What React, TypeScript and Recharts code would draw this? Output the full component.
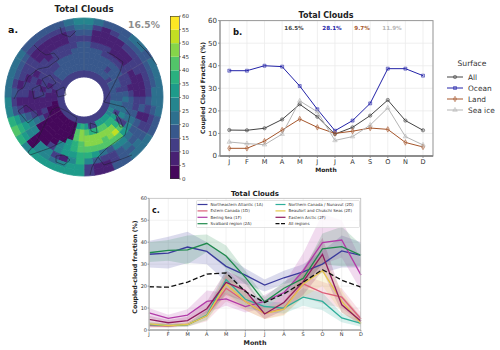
import {
  Area,
  Bar,
  BarChart,
  CartesianGrid,
  ComposedChart,
  Cell,
  Legend,
  Line,
  LineChart,
  Pie,
  PieChart,
  Scatter,
  ScatterChart,
  Symbols,
  XAxis,
  YAxis,
} from "recharts";

const FONT = "DejaVu Sans";
const MONTHS = ["J", "F", "M", "A", "M", "J", "J", "A", "S", "O", "N", "D"];
const MONTH_INDEX = [0, 1, 2, 3, 4, 5, 6, 7, 8, 9, 10, 11];
const Y_TICKS = [0, 10, 20, 30, 40, 50, 60];

// panel a: cloud fraction per map cell, 48 sectors clockwise from the top, inner ring first
const POLE_RING = [13];
const RING_1 = [17,17,15,15, 15,15,15,12, 15,15,15,17, 17,20,22,25, 27,30,32,32, 30,12,12,32, 35,32,2,2, 2,2,2,2, 2,2,2,7, 7,7,12,12, 12,17,17,17, 17,17,17,17];
const RING_2 = [17,15,15,15, 15,12,15,15, 15,15,12,15, 17,20,22,12, 30,35,37,40, 42,37,35,42, 45,42,2,2, 2,2,2,2, 2,2,7,7, 7,12,7,12, 12,17,17,17, 17,17,17,17];
const RING_3 = [17,17,15,15, 15,15,15,15, 12,12,12,17, 20,17,22,25, 12,37,45,47, 47,47,47,47, 45,40,2,2, 2,2,2,2, 7,12,7,7, 12,7,12,12, 12,12,12,17, 17,17,17,17];
const RING_4 = [17,15,15,12, 12,12,12,12, 12,12,7,12, 17,15,17,22, 12,42,50,47, 42,45,47,47, 42,37,32,2, 2,2,2,2, 17,7,7,7, 12,12,7,12, 12,12,12,12, 12,12,17,17];
const RING_5 = [15,12,12,12, 7,7,7,12, 7,7,7,7, 12,12,17,20, 25,32,40,42, 42,42,40,42, 40,35,30,27, 2,2,2,2, 22,12,7,7, 7,12,12,7, 12,12,7,12, 12,12,12,15];
const RING_6 = [12,7,7,7, 7,7,7,12, 12,7,7,7, 12,15,7,17, 17,22,25,27, 17,22,30,37, 37,32,30,27, 12,2,2,25, 27,17,7,7, 12,12,7,12, 12,7,7,7, 7,7,12,12];
const RING_7 = [17,7,7,7, 7,12,12,12, 12,12,12,12, 17,12,7,12, 17,17,20,17, 12,12,17,27, 35,27,7,12, 27,25,2,27, 30,22,12,7, 12,7,12,12, 12,7,7,7, 7,7,12,17];
const RING_8 = [20,12,7,12, 15,17,17,15, 17,17,17,20, 20,17,12,12, 17,20,17,15, 12,7,7,12, 30,30,27,22, 27,27,2,32, 36,32,17,12, 17,12,17,17, 17,12,12,12, 12,12,17,22];
const RING_9 = [25,20,15,17, 17,20,20,17, 20,22,20,22, 22,20,17,15, 20,22,20,17, 15,7,7,12, 30,30,30,30, 30,30,27,37, 42,35,25,25, 22,20,22,22, 22,17,17,17, 17,17,22,25];

const MAP_RINGS = [POLE_RING, RING_1, RING_2, RING_3, RING_4, RING_5, RING_6, RING_7, RING_8, RING_9];
const RING_EDGES = [20, 27, 33, 39, 45, 50, 56, 62, 68, 73, 79];

const VIRIDIS = ["#45085b", "#482173", "#433e85", "#38588c", "#2d708e", "#25858e", "#1e9b8a", "#2ab07f", "#52c569", "#86d549", "#c2df23", "#fde725"];
const COLOR_STEPS = ["s0", "s1", "s2", "s3", "s4", "s5", "s6", "s7", "s8", "s9", "s10", "s11"];
const COLOR_TICKS = [0, 5, 10, 15, 20, 25, 30, 35, 40, 45, 50, 55, 60];
const colorbarData = [Object.fromEntries(COLOR_STEPS.map((k) => [k, 5]))];

// coastlines, map units with the pole at 0,0
const COASTS = [
  [[-7,-21],[-12,-38],[-22,-45],[-34,-51],[-54,-58],[-56,-55],[-48,-46],[-41,-31],[-32,-13],[-26,-10],[-16,-15],[-7,-21]],
  [[23,45],[29,42],[39,35],[36,25],[26,5],[20,-5],[32,-8],[40,-10],[46,-18],[41,-38],[23,-51],[14,-60],[8,-70],[6,-78]],
  [[14,-60],[20,-68],[38,-62],[48,-58]],
  [[53,55],[63,45],[73,32]],
  [[-24,70],[-22,63],[-14,60],[-8,66]],
  [[-50,52],[-44,46],[-38,42],[-30,44],[-25,38],[-36,30],[-46,28],[-56,20],[-60,10],[-66,6],[-70,-2]],
  [[-42,18],[-34,22],[-28,14],[-36,8],[-42,18]],
  [[-28,6],[-20,10],[-18,2],[-26,0],[-28,6]],
  [[-52,8],[-44,12],[-40,2],[-50,-2],[-52,8]],
  [[-66,-14],[-58,-8],[-46,-18],[-56,-26],[-66,-14]],
  [[-28,-59],[-20,-58],[-14,-63],[-20,-68],[-28,-65],[-28,-59]],
  [[31,-15],[36,-22],[39,-30],[36,-30],[33,-22],[31,-15]],
  [[6,-26],[12,-28],[13,-36],[7,-34],[6,-26]],
];
const MERIDIANS = [
  [[0,27],[0,79]],
  [[23,13],[68,40]],
  [[23,-13],[68,-40]],
  [[0,-27],[0,-79]],
  [[-23,-13],[-68,-40]],
  [[-23,13],[-68,40]],
];

// panel b
const ALL_SURFACE = [11.5, 11.4, 12.3, 16.2, 22.9, 17.4, 9.7, 12.7, 17.9, 24.8, 15.7, 11.4];
const OCEAN = [37.8, 37.8, 40, 39.6, 31, 20.7, 11.2, 15.7, 23.3, 38.7, 38.7, 35.6];
const LAND = [3.4, 3.4, 6.6, 11.5, 16.4, 12.7, 10, 11, 12.4, 11.8, 6, 4];
const SEA_ICE = [6.2, 5.5, 5, 9.7, 24.4, 19.6, 6.9, 8.6, 13.7, 21.3, 8.6, 4.9];

const surfaceData = MONTH_INDEX.map((i) => ({
  idx: i,
  all: ALL_SURFACE[i],
  ocean: OCEAN[i],
  land: LAND[i],
  seaIce: SEA_ICE[i],
}));

const SURFACES = [
  { key: "all", name: "All", color: "#444444", symbol: "circle" },
  { key: "ocean", name: "Ocean", color: "#2323a8", symbol: "square" },
  { key: "land", name: "Land", color: "#a5552a", symbol: "diamond" },
  { key: "seaIce", name: "Sea ice", color: "#b5b5b5", symbol: "triangle" },
] as const;

// panel c
const NE_ATLANTIC = [34.5, 35, 37.8, 35.8, 29, 25, 20.5, 23.8, 26.5, 30, 36, 34];
const NE_ATLANTIC_LOW = [28.5, 28, 30.5, 30, 22, 21, 17.5, 21, 23, 26, 28.5, 28.5];
const NE_ATLANTIC_HIGH = [40.5, 42.5, 44.8, 40, 34, 28, 23, 27, 30, 36, 43, 40];
const E_CANADA = [2, 1.8, 2.5, 6.5, 19, 13, 7.5, 10, 21, 17, 15, 5];
const E_CANADA_LOW = [1, 1, 1.5, 4, 13, 9, 5, 7, 15, 12, 10, 3];
const E_CANADA_HIGH = [3.2, 2.8, 3.5, 9, 25, 17, 10, 13, 25, 22, 19, 8];
const BERING = [7.8, 5.3, 6.8, 13, 14.2, 10.7, 13, 17, 27, 39.8, 41, 25];
const BERING_LOW = [5.5, 3.8, 4.5, 8, 11, 8, 10, 13, 20, 30, 33, 18];
const BERING_HIGH = [10, 7, 9.5, 18, 17, 13, 16, 21, 35, 53, 50, 32];
const SVALBARD = [35.2, 36.3, 36.5, 39.5, 33.7, 24, 12.8, 19, 23.5, 37, 38, 34];
const SVALBARD_LOW = [31, 31.5, 30, 35.5, 28, 21, 10, 16, 20, 30, 29, 29];
const SVALBARD_HIGH = [40, 41, 43, 43.5, 38.5, 27, 15, 22, 27, 44, 47, 39];
const N_CANADA = [2.5, 2, 2.3, 6.8, 23, 14, 10.7, 10, 15, 13, 5.5, 3];
const N_CANADA_LOW = [1.5, 1.3, 1.5, 4.5, 17, 10, 8, 7.5, 11, 9, 3.5, 1.5];
const N_CANADA_HIGH = [3.5, 2.8, 3, 9, 28, 18, 13, 12.5, 19, 17, 7.5, 4.5];
const BEAUFORT = [2.8, 2, 2.5, 6.5, 21, 13, 7.5, 9.5, 21, 27, 13, 3];
const BEAUFORT_LOW = [1.8, 1.3, 1.7, 4.5, 16, 9, 5, 6.5, 15, 20, 8, 2];
const BEAUFORT_HIGH = [3.8, 2.8, 3.3, 8.5, 26, 17, 10, 12.5, 27, 34, 18, 5];
const E_ARCTIC = [4.8, 3.3, 4.3, 9.7, 21.7, 18, 7.3, 12.5, 22, 34.5, 11.5, 4];
const E_ARCTIC_LOW = [3, 2.2, 3, 7, 16, 13, 5, 9, 16, 27, 8, 2.5];
const E_ARCTIC_HIGH = [6.5, 4.5, 6, 13, 27, 23, 10, 16, 28, 42, 16, 6];
const ALL_REGIONS = [19.7, 19.5, 21.8, 25.5, 26, 17.5, 12.5, 16.5, 21.8, 27.5, 22.7, 19.5];

const REGIONS = [
  { key: "ne", name: "Northeastern Atlantic (1A)", color: "#3a3a9c", mean: NE_ATLANTIC, low: NE_ATLANTIC_LOW, high: NE_ATLANTIC_HIGH },
  { key: "ec", name: "Estern Canada (1D)", color: "#dc5f78", mean: E_CANADA, low: E_CANADA_LOW, high: E_CANADA_HIGH },
  { key: "be", name: "Bering Sea (1F)", color: "#b23aa8", mean: BERING, low: BERING_LOW, high: BERING_HIGH },
  { key: "sv", name: "Svalbard region (2A)", color: "#1f8a4c", mean: SVALBARD, low: SVALBARD_LOW, high: SVALBARD_HIGH },
  { key: "nc", name: "Northern Canada / Nunavut (2D)", color: "#2fae9a", mean: N_CANADA, low: N_CANADA_LOW, high: N_CANADA_HIGH },
  { key: "bc", name: "Beaufort and Chukchi Seas (2E)", color: "#e6c84a", mean: BEAUFORT, low: BEAUFORT_LOW, high: BEAUFORT_HIGH },
  { key: "ea", name: "Eastern Arctic (2F)", color: "#8e1a5e", mean: E_ARCTIC, low: E_ARCTIC_LOW, high: E_ARCTIC_HIGH },
];

const regionData = MONTH_INDEX.map((i) => {
  const row: Record<string, unknown> = { idx: i, allRegions: ALL_REGIONS[i] };
  REGIONS.forEach((r) => {
    row[r.key] = r.mean[i];
    row[r.key + "Band"] = [r.low[i], r.high[i]];
  });
  return row;
});

const colorFor = (v: number) => VIRIDIS[Math.min(11, Math.floor(v / 5))];
const place = (left: number, top: number) => ({ position: "absolute" as const, left, top });

const MapPanel = () => (
  <>
    <div style={place(4, 17)}>
      <PieChart width={160} height={160} margin={{ top: 0, right: 0, bottom: 0, left: 0 }}>
        {MAP_RINGS.map((ring, r) => (
          <Pie
            key={r}
            data={ring.map((v) => ({ value: 1, cloud: v }))}
            dataKey="value"
            cx={80}
            cy={80}
            innerRadius={RING_EDGES[r]}
            outerRadius={RING_EDGES[r + 1]}
            startAngle={90}
            endAngle={-270}
            isAnimationActive={false}
          >
            {ring.map((v, i) => (
              <Cell key={i} fill={colorFor(v)} stroke={colorFor(v)} strokeWidth={0.8} />
            ))}
          </Pie>
        ))}
      </PieChart>
    </div>
    <div style={place(4, 17)}>
      <ScatterChart width={160} height={160} margin={{ top: 0, right: 0, bottom: 0, left: 0 }}>
        <XAxis type="number" dataKey="x" domain={[-80, 80]} hide />
        <YAxis type="number" dataKey="y" domain={[-80, 80]} hide width={0} />
        {MERIDIANS.map((m, i) => (
          <Scatter
            key={i}
            data={m.map(([x, y]) => ({ x, y }))}
            line={{ stroke: "#8a8a8a", strokeWidth: 0.4, strokeOpacity: 0.5 }}
            shape={() => <g />}
            isAnimationActive={false}
          />
        ))}
        {COASTS.map((c, i) => (
          <Scatter
            key={i}
            data={c.map(([x, y]) => ({ x, y }))}
            line={{ stroke: "#1c1c2c", strokeWidth: 0.5 }}
            shape={() => <g />}
            isAnimationActive={false}
          />
        ))}
      </ScatterChart>
    </div>
  </>
);

const Colorbar = () => (
  <div style={place(170, 12)}>
    <BarChart
      width={30}
      height={172}
      data={colorbarData}
      barCategoryGap={0}
      margin={{ top: 4, right: 0, bottom: 5, left: 0 }}
    >
      <XAxis hide />
      <YAxis
        orientation="right"
        width={21}
        domain={[0, 60]}
        ticks={COLOR_TICKS}
        interval={0}
        tick={{ fontSize: 5.5, fill: "#333", fontFamily: FONT }}
        tickSize={2}
        tickMargin={1}
        axisLine={false}
        tickLine={{ stroke: "#333", strokeWidth: 0.5 }}
      />
      {COLOR_STEPS.map((k, i) => (
        <Bar key={k} dataKey={k} stackId="bar" fill={VIRIDIS[i]} isAnimationActive={false} />
      ))}
    </BarChart>
  </div>
);

const SurfaceLegend = () => (
  <svg width={58} height={60} style={{ fontFamily: FONT, display: "block" }}>
    <text x={30} y={10} textAnchor="middle" fontSize={7.6} fill="#333">Surface</text>
    {SURFACES.map((s, i) => (
      <g key={s.key} transform={`translate(0, ${21 + i * 11})`}>
        <line x1={5} x2={21} stroke={s.color} strokeWidth={1} />
        <Symbols cx={13} cy={0} type={s.symbol} size={9} fill={s.color} fillOpacity={0.3} stroke={s.color} strokeWidth={0.5} />
        <text x={26} y={2.6} fontSize={7.4} fill="#333">{s.name}</text>
      </g>
    ))}
  </svg>
);

const SurfacePanel = () => (
  <div style={place(190, 12)}>
    <LineChart
      width={310}
      height={165}
      data={surfaceData}
      margin={{ top: 8.6, right: 67, bottom: 0, left: 0 }}
    >
      <CartesianGrid stroke="#ebebeb" strokeWidth={0.8} />
      <XAxis
        dataKey="idx"
        type="number"
        domain={[0, 11]}
        ticks={MONTH_INDEX}
        interval={0}
        height={21}
        padding={{ left: 9.3, right: 10 }}
        tickFormatter={(i: number) => MONTHS[i]}
        tick={{ fontSize: 6.6, fill: "#333", fontFamily: FONT }}
        tickSize={2}
        tickMargin={1}
        axisLine={{ stroke: "#777" }}
        tickLine={{ stroke: "#555", strokeWidth: 0.6 }}
      />
      <YAxis
        width={30}
        domain={[0, 60]}
        ticks={Y_TICKS}
        interval={0}
        tick={{ fontSize: 7, fill: "#333", fontFamily: FONT }}
        tickSize={2}
        tickMargin={1}
        axisLine={{ stroke: "#999" }}
        tickLine={{ stroke: "#555", strokeWidth: 0.6 }}
      />
      {SURFACES.map((s) => (
        <Line
          key={s.key}
          dataKey={s.key}
          stroke={s.color}
          strokeWidth={1}
          isAnimationActive={false}
          dot={(p: { cx: number; cy: number; index: number }) => (
            <Symbols
              key={p.index}
              cx={p.cx}
              cy={p.cy}
              type={s.symbol}
              size={9}
              fill={s.color}
              fillOpacity={0.3}
              stroke={s.color}
              strokeWidth={0.5}
            />
          )}
        />
      ))}
      <Legend
        layout="horizontal"
        verticalAlign="middle"
        align="center"
        wrapperStyle={{ left: 252, top: 44, width: 58, height: 60 }}
        content={() => <SurfaceLegend />}
      />
    </LineChart>
  </div>
);

const RegionLegend = () => {
  const rows = [...REGIONS.map((r) => ({ name: r.name, color: r.color, dashed: false })), { name: "All regions", color: "#111", dashed: true }];
  return (
    <svg width={164} height={28} style={{ fontFamily: FONT, display: "block" }}>
      <rect x={0.5} y={0.5} width={163} height={27} rx={1} fill="#fff" fillOpacity={0.8} stroke="#d0d0d0" strokeWidth={0.6} />
      {rows.map((r, i) => {
        const col = i < 4 ? 0 : 1;
        const row = i < 4 ? i : i - 4;
        const x = col === 0 ? 1.5 : 79.5;
        return (
          <g key={r.name} transform={`translate(${x}, ${4.5 + row * 6.4})`}>
            <line x1={0} x2={10} stroke={r.color} strokeWidth={1.2} strokeDasharray={r.dashed ? "4 1.5" : undefined} />
            <text x={13} y={1.5} fontSize={4} fill="#333">{r.name}</text>
          </g>
        );
      })}
    </svg>
  );
};

const RegionPanel = () => (
  <div style={place(122, 190)}>
    <ComposedChart
      width={250}
      height={150}
      data={regionData}
      margin={{ top: 8.3, right: 11, bottom: 0, left: 0 }}
    >
      <CartesianGrid stroke="#ededed" strokeWidth={0.7} />
      <XAxis
        dataKey="idx"
        type="number"
        domain={[0, 11]}
        ticks={MONTH_INDEX}
        interval={0}
        height={10}
        tickFormatter={(i: number) => MONTHS[i]}
        tick={{ fontSize: 5, fill: "#333", fontFamily: FONT }}
        tickSize={1.5}
        tickMargin={0.5}
        axisLine={{ stroke: "#777" }}
        tickLine={{ stroke: "#555", strokeWidth: 0.5 }}
      />
      <YAxis
        width={27}
        domain={[0, 60]}
        ticks={Y_TICKS}
        interval={0}
        tick={{ fontSize: 5, fill: "#333", fontFamily: FONT }}
        tickSize={1.5}
        tickMargin={0.5}
        axisLine={{ stroke: "#aaa" }}
        tickLine={{ stroke: "#555", strokeWidth: 0.5 }}
      />
      {REGIONS.map((r) => (
        <Area
          key={r.key + "Band"}
          dataKey={r.key + "Band"}
          stroke="none"
          fill={r.color}
          fillOpacity={0.18}
          isAnimationActive={false}
        />
      ))}
      {REGIONS.map((r) => (
        <Line key={r.key} dataKey={r.key} stroke={r.color} strokeWidth={1.3} dot={false} isAnimationActive={false} />
      ))}
      <Line dataKey="allRegions" stroke="#111" strokeWidth={1.3} strokeDasharray="5 2.5" dot={false} isAnimationActive={false} />
      <Legend
        layout="horizontal"
        verticalAlign="middle"
        align="center"
        wrapperStyle={{ left: 74, top: 10, width: 164, height: 28 }}
        content={() => <RegionLegend />}
      />
    </ComposedChart>
  </div>
);

const Labels = () => (
  <svg width={500} height={350} style={{ ...place(0, 0), fontFamily: FONT, pointerEvents: "none" }}>
    <text x={84} y={12} textAnchor="middle" fontSize={8.6} fontWeight="bold" fill="#222">Total Clouds</text>
    <text x={8} y={33} fontSize={9.5} fontWeight="bold" fill="#111">a.</text>
    <text x={128} y={28} fontSize={9.2} fontWeight="bold" fill="#8c8c8c">16.5%</text>
    <rect x={170.3} y={16.3} width={9} height={162.4} fill="none" stroke="#333" strokeWidth={0.6} />

    <rect x={220} y={20.6} width={213} height={135.4} fill="none" stroke="#999" strokeWidth={1} />
    <line x1={220} x2={433} y1={156} y2={156} stroke="#666" strokeWidth={0.8} />
    <text x={326} y={18} textAnchor="middle" fontSize={8} fontWeight="bold" fill="#222">Total Clouds</text>
    <text x={233} y={35} fontSize={8.5} fontWeight="bold" fill="#111">b.</text>
    <text x={294} y={29.5} textAnchor="middle" fontSize={5.6} fontWeight="bold" fill="#444">16.5%</text>
    <text x={332} y={29.5} textAnchor="middle" fontSize={5.6} fontWeight="bold" fill="#2323a8">28.1%</text>
    <text x={362} y={29.5} textAnchor="middle" fontSize={5.6} fontWeight="bold" fill="#a5552a">9.7%</text>
    <text x={392} y={29.5} textAnchor="middle" fontSize={5.6} fontWeight="bold" fill="#b5b5b5">11.9%</text>
    <text x={326} y={172} textAnchor="middle" fontSize={6} fontWeight="bold" fill="#222">Month</text>
    <text transform="translate(205, 88) rotate(-90)" textAnchor="middle" fontSize={6} fontWeight="bold" fill="#222">Coupled Cloud Fraction (%)</text>

    <rect x={149.3} y={198.3} width={211.4} height={131.4} fill="none" stroke="#bbb" strokeWidth={0.7} />
    <text x={255} y={195.5} textAnchor="middle" fontSize={7} fontWeight="bold" fill="#222">Total Clouds</text>
    <text x={152} y={212.5} fontSize={8} fontWeight="bold" fill="#111">c.</text>
    <text x={255} y={344.5} textAnchor="middle" fontSize={6.4} fontWeight="bold" fill="#222">Month</text>
    <text transform="translate(137, 267) rotate(-90)" textAnchor="middle" fontSize={6.2} fontWeight="bold" fill="#222">Coupled-cloud fraction (%)</text>
  </svg>
);

export default function App() {
  return (
    <div style={{ ...place(0, 0), width: 500, height: 350, background: "#fff", overflow: "hidden" }}>
      <MapPanel />
      <Colorbar />
      <SurfacePanel />
      <RegionPanel />
      <Labels />
    </div>
  );
}
